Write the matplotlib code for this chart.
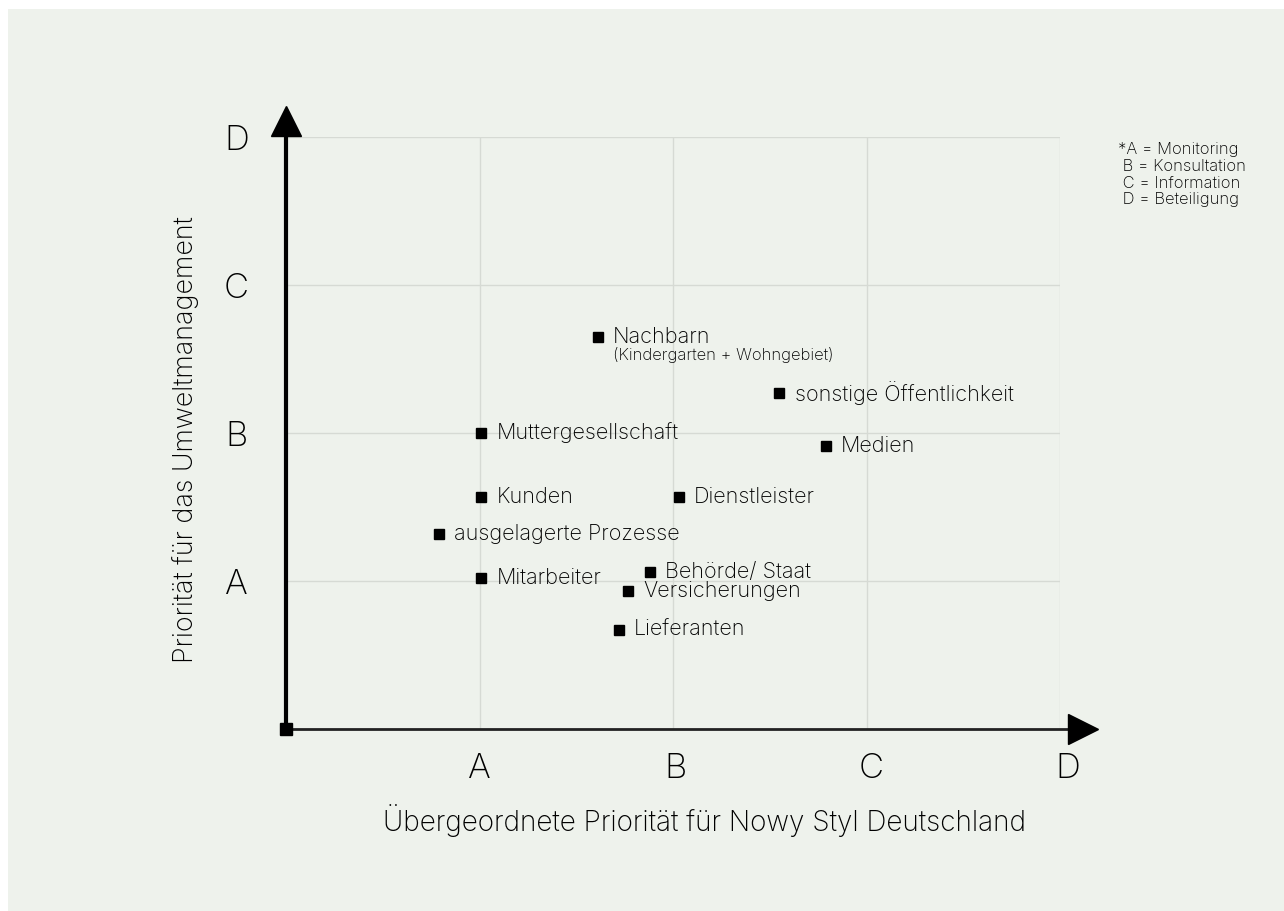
import matplotlib.pyplot as plt
from matplotlib.patches import Rectangle

# Daten: A=1, B=2, C=3, D=4
namen = ["Nachbarn", "sonstige Öffentlichkeit", "Muttergesellschaft", "Medien",
         "Kunden", "Dienstleister", "ausgelagerte Prozesse", "Mitarbeiter",
         "Behörde/ Staat", "Versicherungen", "Lieferanten"]
x_werte = [1.61, 2.55, 1.01, 2.79, 1.01, 2.03, 0.79, 1.01, 1.88, 1.77, 1.72]
y_werte = [2.65, 2.27, 2.00, 1.91, 1.57, 1.57, 1.32, 1.02, 1.06, 0.93, 0.67]
unter_text = {"Nachbarn": "(Kindergarten + Wohngebiet)"}

stufen = ["A", "B", "C", "D"]
legende = ["*A = Monitoring", " B = Konsultation", " C = Information", " D = Beteiligung"]

bg = "#eef2ec"
plt.rcParams["font.family"] = ["Inter", "DejaVu Sans"]
plt.rcParams["font.weight"] = "light"

fig = plt.figure(figsize=(12.84, 9.11), dpi=100)
fig.patch.set_facecolor("white")
fig.patches.append(Rectangle((8 / 1284, 0), 1, 1 - 9 / 911, transform=fig.transFigure,
                             facecolor=bg, edgecolor="none", zorder=-10))

ax = fig.add_axes([286 / 1284, 1 - 729 / 911, 774 / 1284, 592 / 911])
ax.set_facecolor(bg)
ax.set_xlim(0, 4)
ax.set_ylim(0, 4)
for s in ax.spines.values():
    s.set_visible(False)
ax.set_xticks([])
ax.set_yticks([])

# Gitter
for i in range(1, 5):
    ax.plot([i, i], [0, 4], color="#d6dad4", lw=1, zorder=1)
    ax.plot([0, 4], [i, i], color="#d6dad4", lw=1, zorder=1)

# Achsen mit Pfeilen
ax.plot([0, 0], [0, 4.02], color="black", lw=3, clip_on=False, zorder=3)
ax.plot([0, 4.06], [0, 0], color="#222222", lw=2, clip_on=False, zorder=3)
ax.plot(0, 4.11, marker="^", ms=22, color="black", clip_on=False, zorder=4)
ax.plot(4.12, 0, marker=">", ms=22, color="black", clip_on=False, zorder=4)
ax.plot(0, 0, marker="s", ms=8, color="black", clip_on=False, zorder=5)

# Beschriftung der Stufen
for i, s in enumerate(stufen):
    ax.text(-0.255, i + 1 - 0.03, s, fontsize=25, ha="center", va="center")
    ax.text(i + 1 + 0.013 * i, -0.27, s, fontsize=25, ha="center", va="center")

ax.text(-0.52, 1.953, "Priorität für das Umweltmanagement", rotation=90,
        fontsize=19.4, ha="center", va="center")
ax.text(2.165, -0.62, "Übergeordnete Priorität für Nowy Styl Deutschland",
        fontsize=20.1, ha="center", va="center")

# Punkte
ax.plot(x_werte, y_werte, "s", ms=7, color="black", zorder=5, clip_on=False)
for n, x, y in zip(namen, x_werte, y_werte):
    ax.annotate(n, (x, y), xytext=(11, 0), textcoords="offset points",
                fontsize=15.6, va="center", ha="left")
    if n in unter_text:
        ax.annotate(unter_text[n], (x, y), xytext=(11, -13), textcoords="offset points",
                    fontsize=12, va="center", ha="left")

fig.text(1118 / 1284, 1 - 142 / 911, "\n".join(legende), fontsize=11.9,
         ha="left", va="top", linespacing=1.14)

fig.savefig("out.png", dpi=100, facecolor="white")
